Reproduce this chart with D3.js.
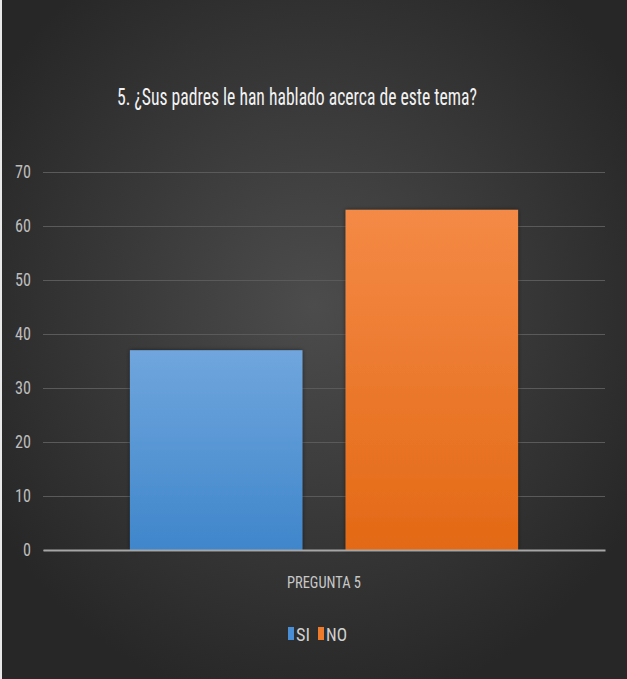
<!DOCTYPE html>
<html><head><meta charset="utf-8">
<script src="https://cdn.jsdelivr.net/npm/d3@7"></script>
<style>html,body{margin:0;padding:0;background:#2e2e2e;}svg{display:block;}</style>
</head><body>
<script>
const categories = ["PREGUNTA 5"];
const seriesNames = ["SI", "NO"];
const siValues = [37];
const noValues = [63];
const yTicks = [0, 10, 20, 30, 40, 50, 60, 70];
const title = "5. ¿Sus padres le han hablado acerca de este tema?";

const W = 627, H = 679;
const font = "'Liberation Sans Narrow', 'Roboto Condensed', Roboto, sans-serif";
const svg = d3.select("body").append("svg").attr("width", W).attr("height", H);
const defs = svg.append("defs");
const bg = defs.append("radialGradient").attr("id", "bg").attr("cx", "50%").attr("cy", "45%").attr("r", "60%");
bg.append("stop").attr("offset", "0%").attr("stop-color", "#4c4c4c");
bg.append("stop").attr("offset", "100%").attr("stop-color", "#272727");
const gb = defs.append("linearGradient").attr("id", "gSI").attr("x1", 0).attr("y1", 0).attr("x2", 0).attr("y2", 1);
gb.append("stop").attr("offset", "0%").attr("stop-color", "#70a6dd");
gb.append("stop").attr("offset", "100%").attr("stop-color", "#3f86cb");
const go = defs.append("linearGradient").attr("id", "gNO").attr("x1", 0).attr("y1", 0).attr("x2", 0).attr("y2", 1);
go.append("stop").attr("offset", "0%").attr("stop-color", "#f48a46");
go.append("stop").attr("offset", "100%").attr("stop-color", "#e36915");
const sh = defs.append("filter").attr("id", "sh").attr("x", "-10%").attr("y", "-10%").attr("width", "120%").attr("height", "120%");
sh.append("feDropShadow").attr("dx", 0).attr("dy", 0).attr("stdDeviation", 2).attr("flood-color", "#000").attr("flood-opacity", 0.5);

svg.append("rect").attr("width", W).attr("height", H).attr("fill", "url(#bg)");
svg.append("rect").attr("x", 0).attr("y", 0).attr("width", 2).attr("height", H).attr("fill", "#e8e8e8");

svg.append("text").attr("x", 297).attr("y", 105).attr("text-anchor", "middle")
  .attr("font-family", font).attr("font-size", 23).attr("fill", "#f2f2f2")
  .attr("textLength", 360).attr("lengthAdjust", "spacingAndGlyphs").text(title);

const y = d3.scaleLinear().domain([0, 70]).range([550, 172]);
const x0 = d3.scaleBand().domain(categories).range([43, 605]).padding(0.183);
const x1 = d3.scaleBand().domain(seriesNames).range([0, x0.bandwidth()]).paddingInner(0.2).paddingOuter(0);

const yAxis = d3.axisLeft(y).tickValues(yTicks).tickSize(-(605 - 43)).tickPadding(12);
const gy = svg.append("g").attr("transform", "translate(43,0)").call(yAxis);
gy.select(".domain").remove();
gy.selectAll(".tick line").attr("stroke", "#5a5a5a").attr("stroke-width", 1);
gy.selectAll(".tick text").attr("font-family", font).attr("font-size", 18).attr("fill", "#bdbdbd")
  .attr("textLength", d => String(d).length * 8).attr("lengthAdjust", "spacingAndGlyphs");

const data = categories.map((c, i) => ({ cat: c, vals: [{ k: "SI", v: siValues[i] }, { k: "NO", v: noValues[i] }] }));
const grp = svg.selectAll("g.cat").data(data).enter().append("g").attr("class", "cat")
  .attr("transform", d => `translate(${x0(d.cat)},0)`);
grp.selectAll("rect").data(d => d.vals).enter().append("rect")
  .attr("x", d => x1(d.k)).attr("width", x1.bandwidth())
  .attr("y", d => y(d.v)).attr("height", d => y(0) - y(d.v))
  .attr("fill", d => d.k === "SI" ? "url(#gSI)" : "url(#gNO)")
  .attr("filter", "url(#sh)");

const xAxis = d3.axisBottom(x0).tickSize(0).tickPadding(27);
const gx = svg.append("g").attr("transform", `translate(0,${y(0)})`).call(xAxis);
gx.select(".domain").attr("stroke", "#a6a6a6").attr("stroke-width", 2);
gx.selectAll(".tick text").attr("font-family", font).attr("font-size", 16).attr("fill", "#c8c8c8")
  .attr("textLength", 74).attr("lengthAdjust", "spacingAndGlyphs");

const legendColors = ["#4a8fd6", "#ee7a2c"];
const leg = svg.append("g").attr("transform", "translate(288,634)");
const legX = [0, 30];
const legW = [14, 21];
seriesNames.forEach((s, i) => {
  const g = leg.append("g").attr("transform", `translate(${legX[i]},0)`);
  g.append("rect").attr("x", 0).attr("y", -7).attr("width", 6).attr("height", 13).attr("fill", legendColors[i]);
  g.append("text").attr("x", 8).attr("y", 7).attr("font-family", font).attr("font-size", 18).attr("fill", "#d0d0d0")
    .attr("textLength", legW[i]).attr("lengthAdjust", "spacingAndGlyphs").text(s);
});
</script>
</body></html>
